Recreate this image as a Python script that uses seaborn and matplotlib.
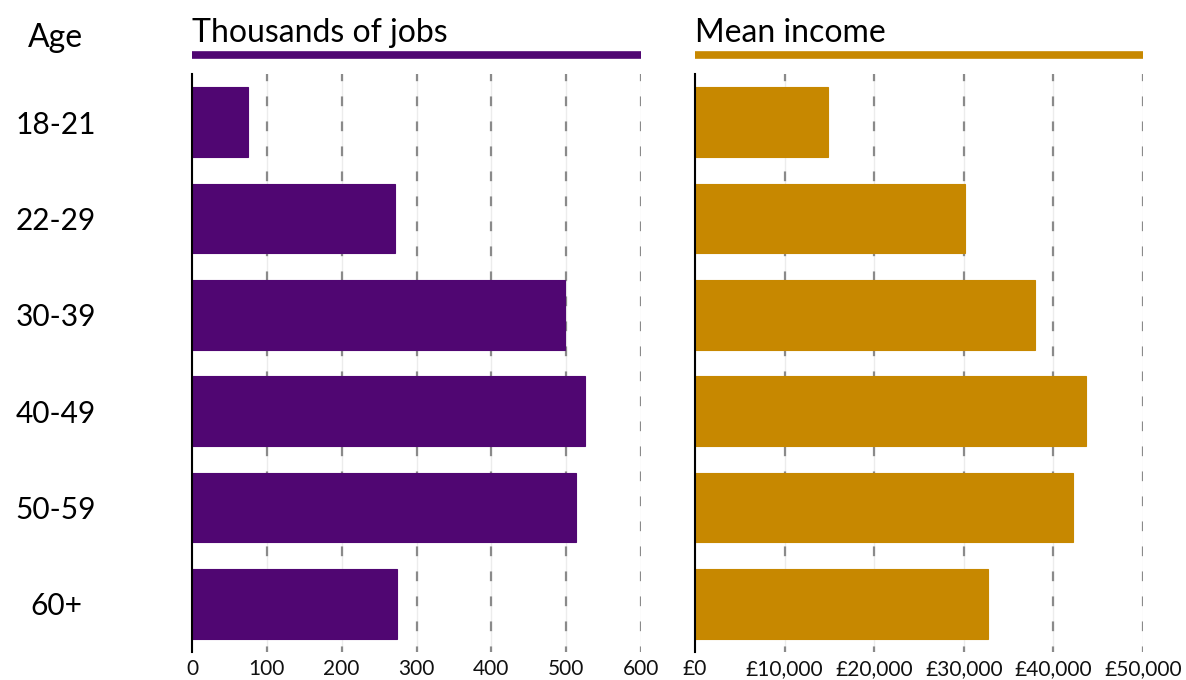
import matplotlib
matplotlib.use("Agg")
import matplotlib.pyplot as plt
import seaborn as sns
import pandas as pd

ages = ["18-21", "22-29", "30-39", "40-49", "50-59", "60+"]
jobs_thousands = [75, 271, 499, 525, 513, 274]
mean_income = [14800, 30100, 37950, 43600, 42150, 32750]
jobs_ticks = [0, 100, 200, 300, 400, 500, 600]
income_ticks = [0, 10000, 20000, 30000, 40000, 50000]
income_tick_labels = ["£0", "£10,000", "£20,000", "£30,000", "£40,000", "£50,000"]

PURPLE = "#500672"
GOLD = "#C78800"
FONT = ["Lato", "DejaVu Sans"]

sns.set_theme(style="white")
plt.rcParams["font.family"] = FONT
plt.rcParams["lines.scale_dashes"] = False

df = pd.DataFrame({"age": ages, "jobs": jobs_thousands, "income": mean_income})

fig = plt.figure(figsize=(11.86, 6.8), dpi=100)
axL = fig.add_axes([192 / 1186, 28 / 680, 449 / 1186, 578 / 680])
axR = fig.add_axes([695 / 1186, 28 / 680, 448 / 1186, 578 / 680])

panels = [
    (axL, "jobs", PURPLE, jobs_ticks, [str(t) for t in jobs_ticks], "Thousands of jobs"),
    (axR, "income", GOLD, income_ticks, income_tick_labels, "Mean income"),
]

for ax, col, color, ticks, labels, title in panels:
    sns.barplot(data=df, x=col, y="age", order=ages, color=color, saturation=1,
                width=0.72, orient="h", ax=ax, edgecolor=color, linewidth=0.8, zorder=3)
    ax.set_xlim(ticks[0], ticks[-1])
    ax.set_ylim(len(ages) - 0.5, -0.5)
    ax.set_xticks(ticks)
    ax.set_xticklabels(labels, fontsize=15, color="#111111")
    for t in ticks:
        ax.axvline(t, color="#ececec", lw=1.0, zorder=1)
        if t != ticks[0]:
            ax.axvline(t, color="#8a8a8a", lw=1.6, linestyle=(3, (7, 11)), zorder=2)
    ax.set_xlabel("")
    ax.set_ylabel("")
    for s in ["top", "right", "bottom"]:
        ax.spines[s].set_visible(False)
    ax.spines["left"].set_color("black")
    ax.spines["left"].set_linewidth(1.5)
    ax.spines["left"].set_zorder(5)
    ax.tick_params(axis="x", length=0, pad=5)
    ax.plot([0, 1], [1.033, 1.033], transform=ax.transAxes, color=color, lw=5.5,
            clip_on=False, solid_capstyle="butt")
    ax.text(0.0, 1.071, title, transform=ax.transAxes, fontsize=23, ha="left",
            va="center", color="black")

axL.tick_params(axis="y", length=0, pad=98)
for lab in axL.get_yticklabels():
    lab.set_ha("center")
    lab.set_fontsize(21.5)
    lab.set_color("black")
axR.set_yticklabels([])
axR.tick_params(axis="y", length=0)

fig.text(55 / 1186, 1 - 38 / 680, "Age", ha="center", va="center", fontsize=23, color="black")

fig.savefig("out.png", dpi=100)
